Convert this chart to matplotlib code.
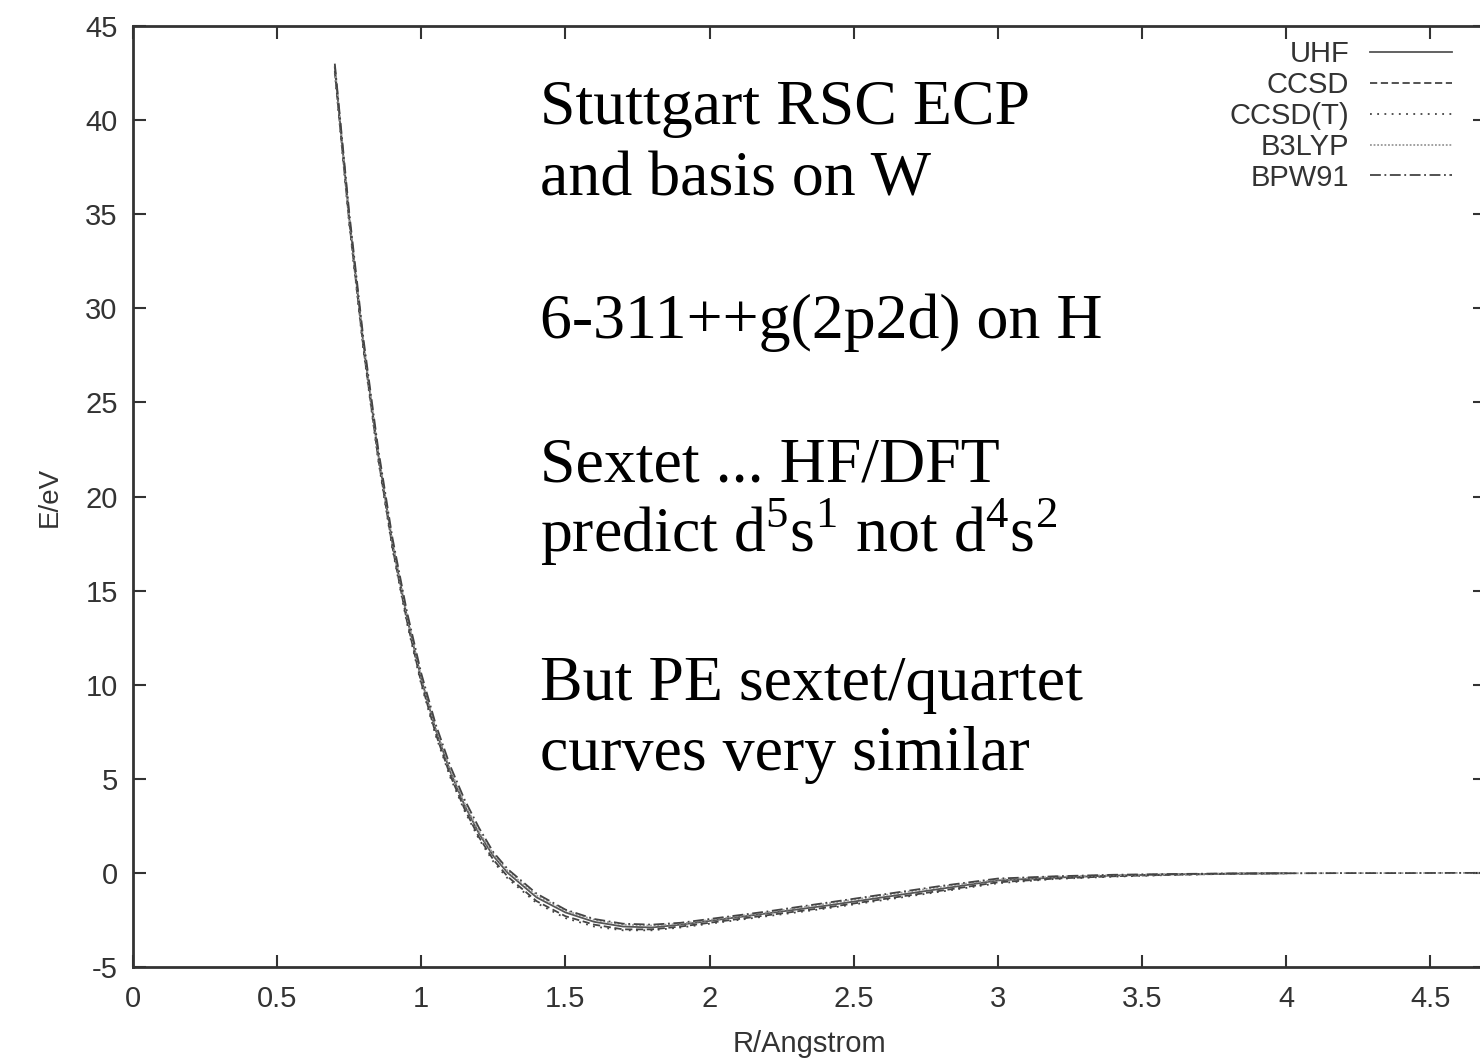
import numpy as np
import matplotlib
matplotlib.use("Agg")
import matplotlib.pyplot as plt

# bond length grid (Angstrom)
r_cc = [0.70, 0.75, 0.80, 0.85, 0.90, 0.95, 1.00, 1.05, 1.10, 1.15, 1.20, 1.25, 1.30,
        1.40, 1.50, 1.60, 1.70, 1.80, 1.90, 2.00, 2.20, 2.40, 2.60, 2.80, 3.00,
        3.20, 3.40, 3.60, 3.80, 4.00]
r_dft = r_cc + [4.20, 4.40, 4.60, 4.70]

# energies (eV)
e_uhf = [42.8, 34.8, 28.0, 22.3, 17.5, 13.6, 10.3, 7.6, 5.4, 3.6, 2.1, 0.9, 0.0,
         -1.3, -2.1, -2.6, -2.85, -2.9, -2.75, -2.55, -2.15, -1.75, -1.3, -0.85, -0.4,
         -0.25, -0.14, -0.08, -0.04, -0.02]
e_ccsd = [42.6, 34.6, 27.8, 22.1, 17.3, 13.4, 10.1, 7.4, 5.2, 3.4, 1.9, 0.7, -0.2,
          -1.5, -2.3, -2.75, -3.0, -3.0, -2.85, -2.65, -2.25, -1.85, -1.4, -0.95, -0.5,
          -0.3, -0.18, -0.1, -0.05, -0.02]
e_ccsdt = [42.5, 34.5, 27.7, 22.0, 17.2, 13.3, 10.0, 7.3, 5.1, 3.3, 1.8, 0.6, -0.3,
           -1.6, -2.4, -2.85, -3.05, -3.05, -2.9, -2.7, -2.3, -1.9, -1.45, -1.0, -0.55,
           -0.32, -0.2, -0.11, -0.05, -0.02]
e_b3lyp = [42.9, 34.9, 28.1, 22.4, 17.6, 13.7, 10.4, 7.7, 5.5, 3.7, 2.2, 1.0, 0.1,
           -1.2, -2.0, -2.5, -2.75, -2.8, -2.7, -2.5, -2.1, -1.65, -1.2, -0.75, -0.35,
           -0.2, -0.12, -0.07, -0.04, -0.02, -0.01, -0.01, 0.0, 0.0]
e_bpw91 = [43.0, 35.1, 28.3, 22.6, 17.8, 13.9, 10.6, 7.9, 5.7, 3.9, 2.4, 1.1, 0.2,
           -1.1, -1.95, -2.45, -2.7, -2.75, -2.65, -2.45, -2.05, -1.6, -1.15, -0.7, -0.3,
           -0.18, -0.1, -0.06, -0.03, -0.02, -0.01, -0.01, 0.0, 0.0]

xticks = [0, 0.5, 1, 1.5, 2, 2.5, 3, 3.5, 4, 4.5]
xtick_labels = ['0', '0.5', '1', '1.5', '2', '2.5', '3', '3.5', '4', '4.5']
yticks = [-5, 0, 5, 10, 15, 20, 25, 30, 35, 40, 45]

plt.rcParams['font.family'] = ['Liberation Sans', 'DejaVu Sans']
plt.rcParams['axes.unicode_minus'] = False
plt.rcParams['mathtext.fontset'] = 'custom'
plt.rcParams['mathtext.rm'] = 'Liberation Serif'

W, H = 1480, 1058
fig = plt.figure(figsize=(W / 100, H / 100), dpi=100)
ax = fig.add_axes([133 / W, (H - 967) / H, (1485 - 133) / W, 941 / H])

col = '#444444'
ax.plot(r_cc, e_uhf, color='#555555', lw=1.3, ls='-', label='UHF')
ax.plot(r_cc, e_ccsd, color=col, lw=1.3, dashes=(4, 2), label='CCSD')
ax.plot(r_cc, e_ccsdt, color=col, lw=1.3, dashes=(1, 3), label='CCSD(T)')
ax.plot(r_dft, e_b3lyp, color='#999999', lw=1.3, dashes=(1, 1), label='B3LYP')
ax.plot(r_dft, e_bpw91, color=col, lw=1.3, dashes=(6, 2, 1, 2), label='BPW91')

ax.set_xlim(0, 4.69)
ax.set_ylim(-5, 45)
ax.set_xticks(xticks)
ax.set_xticklabels(xtick_labels)
ax.set_yticks(yticks)
ax.tick_params(direction='in', length=9, width=1.5, color='#333333',
               labelsize=21, labelcolor='#333333', top=True, right=True)
ax.tick_params(axis='x', pad=13)
ax.tick_params(axis='y', pad=11)
for s in ax.spines.values():
    s.set_linewidth(2)
    s.set_color('#333333')

ax.set_xlabel('R/Angstrom', fontsize=21, color='#333333', labelpad=12)
ax.set_ylabel('E/eV', fontsize=20, color='#333333', labelpad=16)

leg = ax.legend(loc='upper right', bbox_to_anchor=(1452 / W, 1 - 40 / H),
                bbox_transform=fig.transFigure, frameon=False, markerfirst=False,
                fontsize=21, handlelength=2.8, handletextpad=0.72,
                labelspacing=0.1, borderpad=0, borderaxespad=0)
for t in leg.get_texts():
    t.set_color('#333333')

serif = dict(family='Liberation Serif', fontsize=46, color='black', va='baseline', ha='left')
lines = [
    ("Stuttgart RSC ECP", 124),
    ("and basis on W", 195),
    ("6-311++g(2p2d) on H", 338),
    ("Sextet ... HF/DFT", 482),
    (r"predict d$^{\mathrm{5}}$s$^{\mathrm{1}}$ not d$^{\mathrm{4}}$s$^{\mathrm{2}}$", 552),
    ("But PE sextet/quartet", 700),
    ("curves very similar", 770),
]
for txt, yb in lines:
    fig.text(540 / W, 1 - yb / H, txt, **serif)

fig.savefig('out.png', dpi=100)
